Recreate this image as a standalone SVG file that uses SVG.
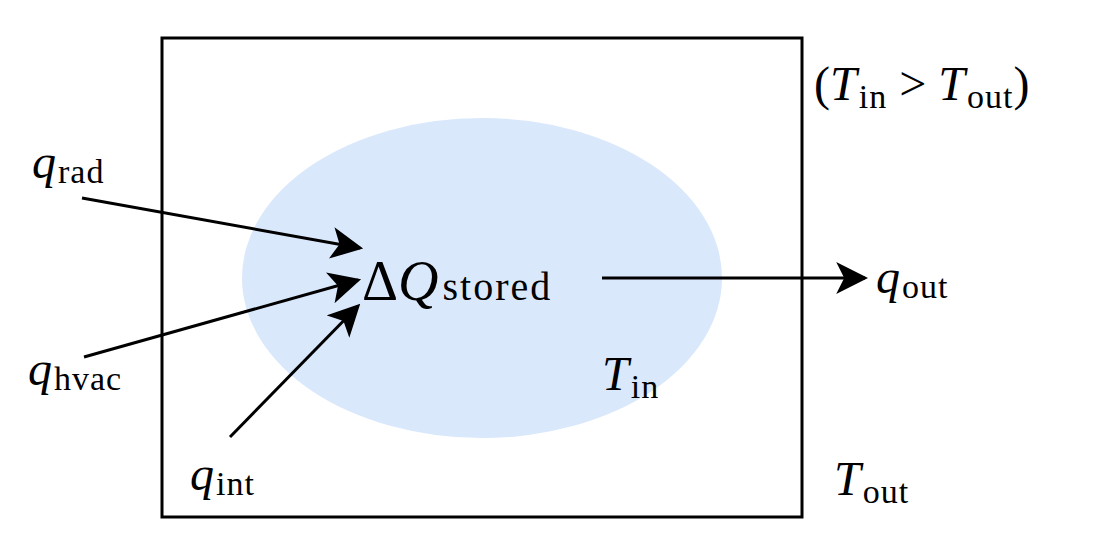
<svg xmlns="http://www.w3.org/2000/svg" width="1120" height="556" viewBox="0 0 1120 556">
<style>
.m{font-family:"Liberation Serif","DejaVu Serif",serif;font-size:48px;fill:#000}
.i{font-style:italic}
.s{font-size:34px;font-style:normal;letter-spacing:1px}
.c{stroke:#000;stroke-width:3;fill:none}
</style>
<defs>
<marker id="b" viewBox="0 0 10 10" refX="9" refY="5" markerWidth="32" markerHeight="32" markerUnits="userSpaceOnUse" orient="auto"><path d="M0,0 L10,5 L0,10 L2.5,5z" fill="#000"/></marker></defs>
<rect x="162" y="38" width="640" height="479" fill="#fff" stroke="#000" stroke-width="3"/>
<ellipse cx="482" cy="278" rx="240" ry="160" fill="#dae8fc"/>
<g id="connectors">
<line class="c" x1="82" y1="198" x2="360" y2="248" marker-end="url(#b)"/>
<line class="c" x1="84" y1="357" x2="358" y2="280" marker-end="url(#b)"/>
<line class="c" x1="230" y1="437" x2="358" y2="306" marker-end="url(#b)"/>
<line class="c" x1="602" y1="278" x2="865" y2="278" marker-end="url(#b)"/>
</g>
<g id="dq"><text class="m" x="362" y="300"><tspan style="font-size:56px">Δ</tspan><tspan class="i" style="font-size:56px">Q</tspan><tspan class="s" dx="4" style="font-size:40px;letter-spacing:2px">stored</tspan></text></g>
<g id="qrad"><text class="m" x="32" y="178"><tspan class="i">q</tspan><tspan class="s" dx="2" dy="5">rad</tspan></text></g>
<g id="qhvac"><text class="m" x="28" y="385"><tspan class="i">q</tspan><tspan class="s" dx="2" dy="5">hvac</tspan></text></g>
<g id="qint"><text class="m" x="190" y="490"><tspan class="i">q</tspan><tspan class="s" dx="2" dy="5">int</tspan></text></g>
<g id="qout"><text class="m" x="876" y="293"><tspan class="i">q</tspan><tspan class="s" dx="2" dy="5">out</tspan></text></g>
<g id="tin"><text class="m" x="602" y="390"><tspan class="i">T</tspan><tspan class="s" dx="2" dy="8">in</tspan></text></g>
<g id="tout"><text class="m" x="834" y="495"><tspan class="i">T</tspan><tspan class="s" dx="2" dy="8">out</tspan></text></g>
<g id="cond"><text class="m" x="814" y="100">(<tspan class="i">T</tspan><tspan class="s" dx="2" dy="8">in</tspan><tspan dy="-8"> &gt; </tspan><tspan class="i">T</tspan><tspan class="s" dx="2" dy="8">out</tspan><tspan dy="-8">)</tspan></text></g>
</svg>
